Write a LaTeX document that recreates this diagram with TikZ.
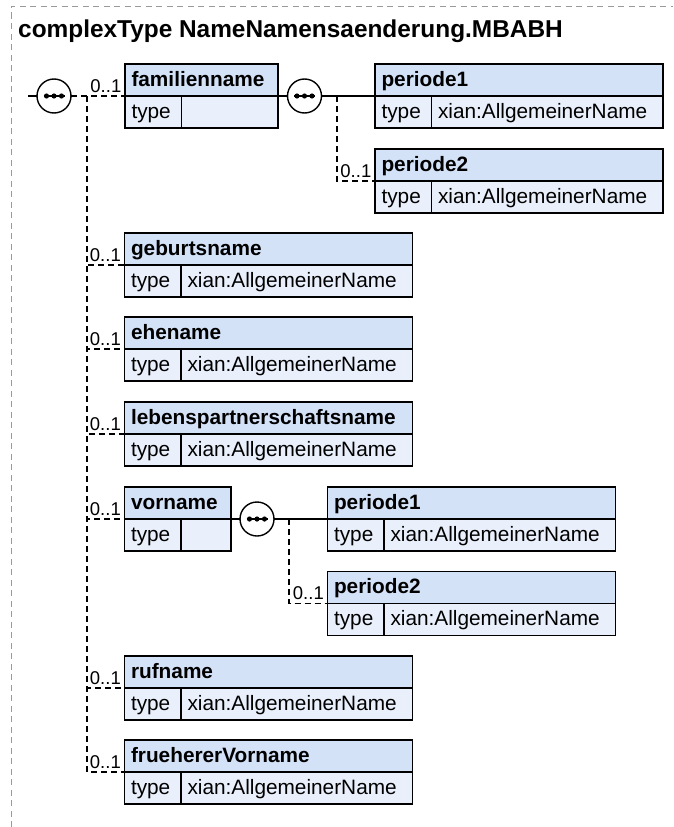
\documentclass[tikz,border=0pt]{standalone}
\usepackage{fontspec}
\setmainfont{Liberation Sans}
\definecolor{hdrfill}{HTML}{D4E2F8}
\definecolor{rowfill}{HTML}{E9F0FB}
\definecolor{framegray}{HTML}{9A9A9A}
\tikzset{
  box/.style={draw=black, line width=1.3pt, anchor=north west, inner xsep=6.5pt, inner ysep=0pt, outer sep=0pt, text height=22pt, text depth=10pt, align=left},
  hdr/.style={box, fill=hdrfill, font=\bfseries\fontsize{20.8}{24}\selectfont},
  cell/.style={box, fill=rowfill, font=\fontsize{20.8}{24}\selectfont},
  occ/.style={anchor=base east, inner sep=0pt, font=\fontsize{18.5}{22}\selectfont},
  seqsym/.style={circle, draw=black, line width=1.4pt, fill=white, minimum size=34pt, inner sep=0pt, outer sep=0pt},
  ln/.style={draw=black, line width=1.4pt},
  dsh/.style={draw=black, line width=1.3pt, dash pattern=on 6pt off 4pt},
}
\newcommand{\elemtyped}[4]{%
  \node[hdr, text width=275pt] (#1) at (#2,#3) {#4};
  \node[cell, text width=43.5pt] (#1T) at (#1.south west) {type};
  \node[cell, text width=218.5pt] (#1V) at (#1T.north east) {xian:AllgemeinerName};
}
\newcommand{\occlabel}[1]{%
  \node[occ] (#1occ) at ([xshift=-3.5pt,yshift=4pt]#1T.north west) {0..1};
}
\begin{document}
\begin{tikzpicture}[x=1pt,y=-1pt]
\useasboundingbox (0,0) rectangle (673,827);
% frame
\draw[framegray, line width=1pt, dash pattern=on 6pt off 4.5pt] (11,827) -- (11,6) -- (673,6);
\node[anchor=base west, inner sep=0pt, font=\bfseries\fontsize{24.4}{28}\selectfont] (title) at (18,37) {complexType NameNamensaenderung.MBABH};

% familienname
\node[hdr, text width=140pt] (fam) at (125,64) {familienname};
\node[cell, text width=43.5pt] (famT) at (fam.south west) {type};
\node[cell, text width=83.5pt] (famV) at (famT.north east) {};
\occlabel{fam}

\elemtyped{pa}{375}{64}{periode1}
\elemtyped{pb}{375}{149}{periode2}
\occlabel{pb}

\elemtyped{geb}{124.5}{233}{geburtsname}
\occlabel{geb}
\elemtyped{ehe}{124.5}{317}{ehename}
\occlabel{ehe}
\elemtyped{leb}{124.5}{402}{lebenspartnerschaftsname}
\occlabel{leb}

% vorname
\node[hdr, text width=93.5pt] (vor) at (124.5,487) {vorname};
\node[cell, text width=43.5pt] (vorT) at (vor.south west) {type};
\node[cell, text width=37pt] (vorV) at (vorT.north east) {};
\occlabel{vor}

\elemtyped{pc}{327.5}{487}{periode1}
\elemtyped{pd}{327.5}{571.5}{periode2}
\occlabel{pd}

\elemtyped{ruf}{124.5}{656}{rufname}
\occlabel{ruf}
\elemtyped{frh}{124.5}{740}{fruehererVorname}
\occlabel{frh}

% sequence symbols
\node[seqsym] (s0) at (54,96) {};
\node[seqsym] (s1) at (304.5,96) {};
\node[seqsym] (s2) at (257,519) {};
\foreach \s in {s0,s1,s2}{
  \draw[line width=1.4pt] ([xshift=-10.5pt]\s.center) -- ([xshift=10.5pt]\s.center);
  \foreach \d in {-7.5,0,7.5} \fill ([xshift=\d pt]\s.center) circle (2.6pt);
}

% connectors
\coordinate (in0) at (28,96);
\draw[ln] (in0) -- (s0.west);
\draw[dsh] (s0.east) -- (famT.north west);
\coordinate (tr0) at (87,96);
\foreach \n in {geb,ehe,leb,vor,ruf,frh}
  \draw[dsh] (tr0) |- (\n T.north west);

\draw[ln] (famV.north east) -- (s1.west);
\draw[ln] (s1.east) -- (paT.north west);
\coordinate (tr1) at (337,96);
\draw[dsh] (tr1) |- (pbT.north west);

\draw[ln] (vorV.north east) -- (s2.west);
\draw[ln] (s2.east) -- (pcT.north west);
\coordinate (tr2) at (289,519);
\draw[dsh] (tr2) |- (pdT.north west);
\end{tikzpicture}
\end{document}
